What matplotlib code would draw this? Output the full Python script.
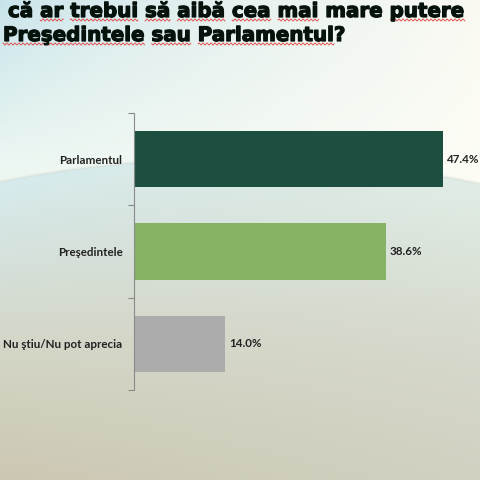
import numpy as np
import matplotlib
matplotlib.use("Agg")
import matplotlib.pyplot as plt
from matplotlib.lines import Line2D
import matplotlib.patheffects as pe

# ---- data ----
categories = ["Parlamentul", "Preşedintele", "Nu ştiu/Nu pot aprecia"]
values = [47.4, 38.6, 14.0]
bar_colors = ["#1c4f3f", "#86b366", "#acacac"]
value_labels = ["47.4%", "38.6%", "14.0%"]
title_lines = ["că ar trebui să aibă cea mai mare putere",
               "Preşedintele sau Parlamentul?"]
underlined = [["ar", "trebui", "să", "aibă", "cea", "mai", "putere"],
              ["Preşedintele", "sau", "Parlamentul"]]

W = H = 480
fig = plt.figure(figsize=(4.8, 4.8), dpi=100)

# ---- background ----
yy, xx = np.mgrid[0:H, 0:W].astype(float)
cx, a, b = 235.0, 700.0, 400.0
arc = 158.0 + b * (1 - np.sqrt(np.clip(1 - ((xx - cx) / a) ** 2, 0, 1)))
tx = (xx / W)[..., None]

# upper zone: bluish at top-left, cream at right, whitening downward
up_tl = np.array([0.78, 0.89, 0.92])
up_tr = np.array([0.98, 0.98, 0.95])
up_bl = np.array([0.93, 0.97, 0.95])
up_br = np.array([0.99, 0.99, 0.96])
ty = np.clip(yy / 170.0, 0, 1)[..., None]
top_row = up_tl * (1 - tx ** 0.7) + up_tr * tx ** 0.7
bot_row = up_bl * (1 - tx) + up_br * tx
above = top_row * (1 - ty) + bot_row * ty

# lower zone: light blue under the arc to beige-gray at bottom
tb = np.clip((yy - arc) / (H - arc), 0, 1)[..., None]
lo_top = np.array([0.84, 0.92, 0.93]) * (1 - tx) + np.array([0.88, 0.93, 0.90]) * tx
lo_mid = np.array([0.83, 0.84, 0.78]) * (1 - tx) + np.array([0.84, 0.85, 0.80]) * tx
lo_bot = np.array([0.80, 0.78, 0.70]) * (1 - tx) + np.array([0.82, 0.82, 0.76]) * tx
t1 = np.clip(tb / 0.55, 0, 1)
t2 = np.clip((tb - 0.55) / 0.45, 0, 1)
below = np.where(tb < 0.55, lo_top * (1 - t1) + lo_mid * t1, lo_mid * (1 - t2) + lo_bot * t2)

mask = (yy >= arc)[..., None]
img = np.where(mask, below, above)
edge = np.exp(-((yy - arc) / 1.5) ** 2)[..., None]
img = img * (1 - 0.35 * edge) + np.array([0.82, 0.83, 0.80]) * 0.35 * edge
img = np.clip(img, 0, 1)

ax_bg = fig.add_axes([0, 0, 1, 1], zorder=-10)
ax_bg.imshow(img, aspect="auto", extent=(0, W, H, 0))
ax_bg.set_xlim(0, W)
ax_bg.set_ylim(H, 0)
ax_bg.axis("off")

# ---- bar chart ----
ax = fig.add_axes([134 / W, 90 / H, 326 / W, 277 / H])
ax.set_facecolor("none")
y = np.arange(len(categories))
ax.barh(y, values, height=0.61, color=bar_colors, zorder=2)
ax.set_xlim(0, 50)
ax.set_ylim(len(categories) - 0.5, -0.5)
ax.set_yticks(y)
ax.set_yticklabels(categories, fontsize=8.4, fontfamily="Lato", fontweight="bold", color="#222222")
ax.set_yticks(np.arange(len(categories) + 1) - 0.5, minor=True)
ax.tick_params(axis="y", which="major", length=0, pad=8.3)
ax.tick_params(axis="y", which="minor", length=4, color="#8a8a8a", width=0.8, direction="out")
ax.set_xticks([])
for s in ["top", "right", "bottom"]:
    ax.spines[s].set_visible(False)
ax.spines["left"].set_color("#8a8a8a")
ax.spines["left"].set_linewidth(0.8)
for yi, v, lab in zip(y, values, value_labels):
    ax.annotate(lab, (v, yi), xytext=(3, 0), textcoords="offset points",
                va="center", ha="left", fontsize=8.4, fontfamily="Lato",
                fontweight="bold", color="#222222", annotation_clip=False)

# ---- title with spell-check squiggles ----
renderer = fig.canvas.get_renderer()
title_kw = dict(fontsize=14.3, fontweight="bold", fontfamily="DejaVu Sans", color="#06120c")
line_pos = [(8, 17), (3, 41)]  # left x, baseline y in pixels (from top)
for (lx, by), line, words in zip(line_pos, title_lines, underlined):
    fig.text(lx / W, 1 - by / H, line, ha="left", va="baseline",
             path_effects=[pe.withStroke(linewidth=0.9, foreground="#06120c")], **title_kw)
    start = 0
    for w in line.split(" "):
        idx = line.index(w, start)
        start = idx + len(w)
        ww = w.rstrip("?")
        if ww not in words:
            continue
        pre = line[:idx]
        x0 = 0
        if pre:
            ta = fig.text(0, 0, pre, **title_kw)
            x0 = ta.get_window_extent(renderer).width
            ta.remove()
        tb_ = fig.text(0, 0, pre + ww, **title_kw)
        x1 = tb_.get_window_extent(renderer).width
        tb_.remove()
        xs = np.arange(lx + x0, lx + x1, 0.5)
        ys = by + 3 + 1.0 * np.sin(2 * np.pi * xs / 4.0)
        fig.add_artist(Line2D(xs / W, 1 - ys / H, color="#e03030", lw=0.7, alpha=0.8))

fig.savefig("out.png", dpi=100)
